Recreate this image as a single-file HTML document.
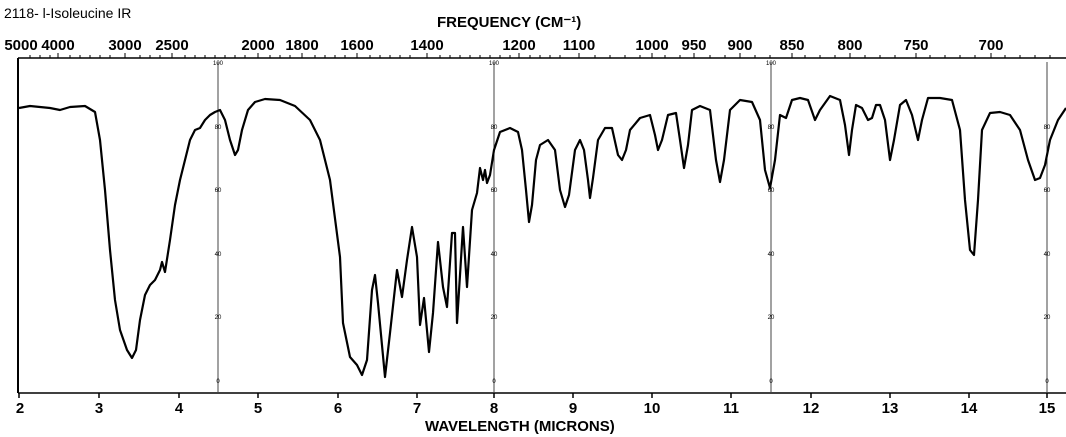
<!DOCTYPE html>
<html><head><meta charset="utf-8"><style>
html,body{margin:0;padding:0;background:#fff;}
svg{display:block;}
text{font-family:"Liberation Sans",sans-serif;fill:#000;}
</style></head><body>
<svg width="1066" height="437" viewBox="0 0 1066 437" xmlns="http://www.w3.org/2000/svg">
<text x="4" y="18" font-size="14">2118- l-Isoleucine IR</text>
<text x="437" y="27" font-size="15" font-weight="bold">FREQUENCY (CM⁻¹)</text>
<g font-size="15" font-weight="bold" text-anchor="middle">
<text x="21" y="50">5000</text><text x="58" y="50">4000</text><text x="125" y="50">3000</text><text x="172" y="50">2500</text>
<text x="258" y="50">2000</text><text x="302" y="50">1800</text><text x="357" y="50">1600</text><text x="427" y="50">1400</text>
<text x="519" y="50">1200</text><text x="579" y="50">1100</text><text x="652" y="50">1000</text><text x="694" y="50">950</text>
<text x="740" y="50">900</text><text x="792" y="50">850</text><text x="850" y="50">800</text><text x="916" y="50">750</text><text x="991" y="50">700</text>
</g>
<line x1="18" y1="58" x2="1066" y2="58" stroke="#000" stroke-width="1.5"/>
<g stroke="#000" stroke-width="1">
<path d="M58 58v-5M125 58v-5M172 58v-5M258 58v-5M302 58v-5M357 58v-5M427 58v-5M519 58v-5M579 58v-5M652 58v-5M694 58v-5M740 58v-5M792 58v-5M850 58v-5M916 58v-5M991 58v-5"/>
<path d="M30 58v-3M40 58v-3M50 58v-3M70 58v-3M80 58v-3M90 58v-3M100 58v-3M110 58v-3M140 58v-3M150 58v-3M160 58v-3M185 58v-3M195 58v-3M205 58v-3M215 58v-3M225 58v-3M235 58v-3M245 58v-3M270 58v-3M280 58v-3M290 58v-3M315 58v-3M325 58v-3M335 58v-3M345 58v-3M370 58v-3M380 58v-3M390 58v-3M400 58v-3M410 58v-3M440 58v-3M450 58v-3M460 58v-3M470 58v-3M480 58v-3M490 58v-3M500 58v-3M510 58v-3M530 58v-3M540 58v-3M550 58v-3M560 58v-3M595 58v-3M610 58v-3M625 58v-3M640 58v-3M665 58v-3M680 58v-3M710 58v-3M725 58v-3M755 58v-3M770 58v-3M805 58v-3M820 58v-3M835 58v-3M865 58v-3M880 58v-3M895 58v-3M930 58v-3M945 58v-3M960 58v-3M975 58v-3M1005 58v-3M1020 58v-3M1035 58v-3M1050 58v-3"/>
</g>
<line x1="18" y1="58" x2="18" y2="393" stroke="#000" stroke-width="2"/>
<line x1="18" y1="393" x2="1066" y2="393" stroke="#000" stroke-width="1.5"/>
<g stroke="#444" stroke-width="1">
<line x1="218" y1="62" x2="218" y2="393"/><line x1="494" y1="62" x2="494" y2="393"/>
<line x1="771" y1="62" x2="771" y2="393"/><line x1="1047" y1="62" x2="1047" y2="393"/>
</g>
<g font-size="6" text-anchor="middle">
<text x="218" y="65">100</text><text x="494" y="65">100</text><text x="771" y="65">100</text>
<text x="218" y="129">80</text><text x="218" y="192">60</text><text x="218" y="256">40</text><text x="218" y="319">20</text><text x="218" y="383">0</text>
<text x="494" y="129">80</text><text x="494" y="192">60</text><text x="494" y="256">40</text><text x="494" y="319">20</text><text x="494" y="383">0</text>
<text x="771" y="129">80</text><text x="771" y="192">60</text><text x="771" y="256">40</text><text x="771" y="319">20</text><text x="771" y="383">0</text>
<text x="1047" y="129">80</text><text x="1047" y="192">60</text><text x="1047" y="256">40</text><text x="1047" y="319">20</text><text x="1047" y="383">0</text>
</g>
<g stroke="#000" stroke-width="1.5">
<path d="M19 393v5M99 393v5M179 393v5M258 393v5M338 393v5M417 393v5M494 393v5M573 393v5M652 393v5M731 393v5M811 393v5M890 393v5M969 393v5M1047 393v5"/>
</g>
<g font-size="15" font-weight="bold" text-anchor="middle">
<text x="20" y="413">2</text><text x="99" y="413">3</text><text x="179" y="413">4</text><text x="258" y="413">5</text><text x="338" y="413">6</text>
<text x="417" y="413">7</text><text x="494" y="413">8</text><text x="573" y="413">9</text><text x="652" y="413">10</text><text x="731" y="413">11</text>
<text x="811" y="413">12</text><text x="890" y="413">13</text><text x="969" y="413">14</text><text x="1047" y="413">15</text>
</g>
<text x="425" y="431" font-size="15" font-weight="bold">WAVELENGTH (MICRONS)</text>
<polyline fill="none" stroke="#000" stroke-width="2.2" stroke-linejoin="round" points="19,108 30,106 50,108 60,110 70,107 85,106 95,112 100,140 105,190 110,250 115,300 120,330 127,350 132,358 136,350 140,320 145,295 150,285 155,280 160,270 162,262 165,272 170,240 175,205 180,180 185,160 190,140 195,130 200,128 205,120 210,115 215,112 220,110 225,120 230,140 235,155 238,150 242,130 248,110 255,102 265,99 280,100 295,106 310,120 320,140 330,180 340,257 343,323 350,357 357,365 362,375 367,360 372,290 375,275 378,303 385,377 390,333 397,270 402,297 407,260 412,227 417,257 420,325 424,298 429,352 433,313 438,242 443,287 447,307 452,233 455,233 457,323 463,227 467,287 472,210 477,193 480,168 483,180 485,170 487,183 490,175 494,150 500,132 510,128 518,132 522,150 526,190 529,222 532,205 536,160 540,145 548,140 555,150 560,190 565,207 569,195 575,150 580,140 584,150 588,180 590,198 593,178 598,140 605,128 612,128 618,155 622,160 626,150 630,130 640,118 650,115 655,135 658,150 662,140 668,115 676,113 680,140 684,168 688,145 692,110 700,106 710,110 716,160 720,182 724,160 730,110 740,100 752,102 760,120 765,170 770,188 775,160 780,115 786,118 792,100 800,98 808,100 815,120 820,110 830,96 840,100 845,125 849,155 852,130 856,105 862,108 868,120 872,118 876,105 880,105 885,120 890,160 894,140 900,105 906,100 912,115 918,140 922,120 928,98 940,98 952,100 960,130 965,200 970,250 974,255 978,200 982,130 990,113 1000,112 1010,115 1020,130 1028,160 1035,180 1040,178 1045,165 1050,140 1058,120 1066,108"/>
</svg>
</body></html>
